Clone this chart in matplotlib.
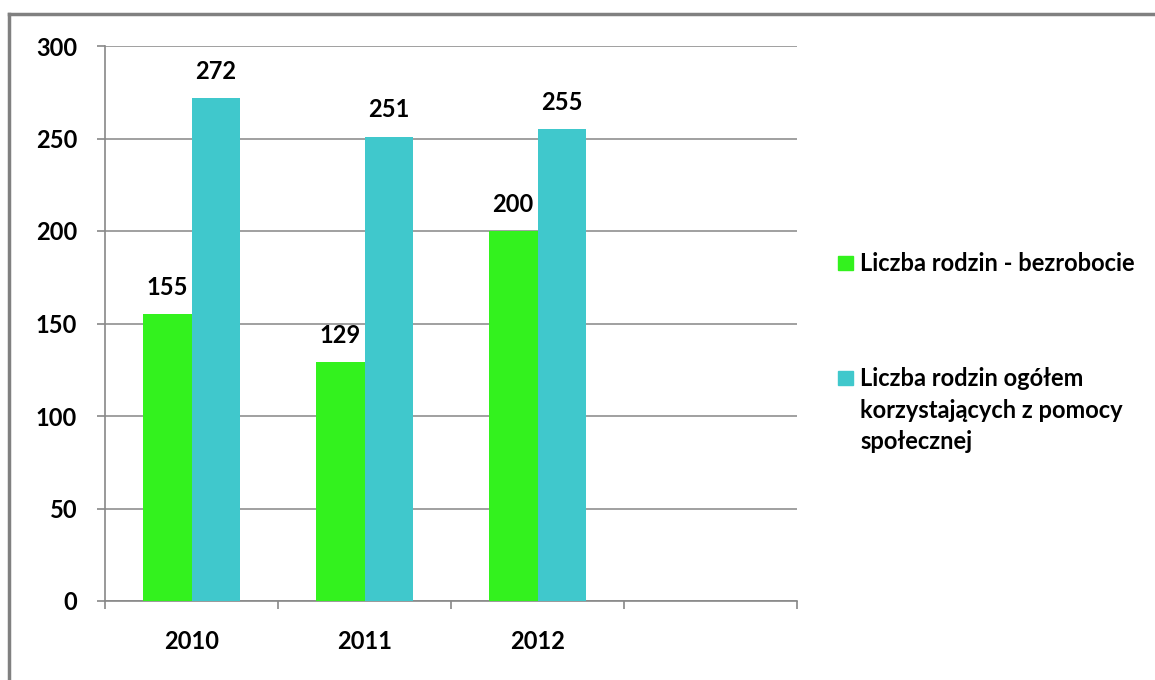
import numpy as np
import matplotlib.pyplot as plt
from matplotlib.lines import Line2D
from matplotlib.patches import Rectangle

years = ["2010", "2011", "2012"]
bezrobocie = [155, 129, 200]
ogolem = [272, 251, 255]
labels = ["Liczba rodzin - bezrobocie",
          "Liczba rodzin ogółem\nkorzystających z pomocy\nspołecznej"]
colors = ["#33F21E", "#40C8CC"]

plt.rcParams["font.family"] = ["Lato", "DejaVu Sans"]
plt.rcParams["font.weight"] = "bold"

fig = plt.figure(figsize=(11.55, 6.8), dpi=100)
ax = fig.add_axes([105 / 1155, 79 / 680, 692 / 1155, 555 / 680])

x = np.arange(len(years))
w = 0.283
b1 = ax.bar(x - w / 2, bezrobocie, w, color=colors[0], label=labels[0], zorder=3)
b2 = ax.bar(x + w / 2, ogolem, w, color=colors[1], label=labels[1], zorder=3)

for bars in (b1, b2):
    for r in bars:
        ax.annotate(str(int(r.get_height())), (r.get_x() + r.get_width() / 2, r.get_height()),
                    xytext=(0, 11), textcoords="offset points", ha="center", va="bottom",
                    fontsize=17, fontweight="bold")

ax.set_xlim(-0.5, 3.5)
ax.set_ylim(0, 300)
ax.set_yticks(range(0, 301, 50))
ax.set_xticks(x)
ax.set_xticklabels(years)
ax.set_xticks(np.arange(-0.5, 3.6, 1), minor=True)
ax.tick_params(axis="x", which="major", length=0, pad=21, labelsize=17)
ax.tick_params(axis="x", which="minor", length=6, color="#888888", width=1.2)
ax.tick_params(axis="y", length=6, color="#888888", width=1.2, labelsize=17, pad=14)
for lbl in ax.get_xticklabels() + ax.get_yticklabels():
    lbl.set_fontweight("bold")

ax.grid(axis="y", color="#A0A0A0", linewidth=1.4, zorder=0)
for s in ("top", "right"):
    ax.spines[s].set_visible(False)
for s in ("left", "bottom"):
    ax.spines[s].set_color("#888888")
    ax.spines[s].set_linewidth(1.2)

# legend, handle aligned with the first text line
leg_y = [263, 378]
for lab, col, yy in zip(labels, colors, leg_y):
    fig.add_artist(Rectangle((838 / 1155, 1 - (yy + 7) / 680), 15 / 1155, 14 / 680,
                             transform=fig.transFigure, color=col))
    fig.text(860 / 1155, 1 - (yy - 11) / 680, lab, ha="left", va="top", fontsize=17,
             fontweight="bold", linespacing=1.45)

# outer frame
fig.add_artist(Line2D([9 / 1155, 9 / 1155], [0, 1 - 14 / 680], transform=fig.transFigure,
                      color="#808080", linewidth=2.5))
fig.add_artist(Line2D([9 / 1155, 1], [1 - 14 / 680, 1 - 14 / 680], transform=fig.transFigure,
                      color="#808080", linewidth=2.5))

fig.savefig("out.png", dpi=100)
